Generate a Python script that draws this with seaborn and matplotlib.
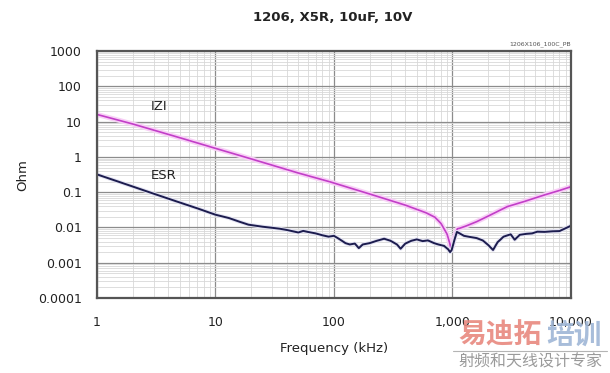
import numpy as np
import pandas as pd
import matplotlib
matplotlib.use("Agg")
import matplotlib.pyplot as plt
from matplotlib.ticker import LogLocator, FixedLocator, FixedFormatter, NullFormatter
import seaborn as sns

# |Z| curve (kHz, Ohm)
z_freq = [1, 2, 5, 10, 20, 50, 92, 200, 400, 600, 711, 800, 900, 950,
          975, 1000, 1050, 1100, 1150, 1300, 1600, 2000, 2900, 4000,
          6000, 8000, 10000]
z_ohm = [16, 8.6, 3.5, 1.75, 0.88, 0.35, 0.198, 0.089, 0.043, 0.026,
         0.0195, 0.013, 0.0065, 0.0035, 0.0024, 0.003, 0.0062, 0.0092,
         0.0095, 0.011, 0.0146, 0.021, 0.039, 0.054, 0.084, 0.112, 0.143]

# ESR curve (kHz, Ohm)
esr_freq = [1, 2, 3, 5, 7, 10, 13, 16, 19, 25, 30, 35, 40, 45, 50, 55, 60,
            70, 80, 90, 100, 112, 125, 136, 150, 162, 175, 200, 230, 265,
            300, 340, 365, 400, 450, 500, 560, 620, 700, 760, 850, 920,
            955, 985, 1040, 1090, 1150, 1250, 1400, 1600, 1800, 2000, 2200,
            2400, 2700, 3100, 3350, 3700, 4200, 4700, 5200, 6000, 7000,
            8000, 9000, 10000]
esr_ohm = [0.32, 0.145, 0.091, 0.051, 0.035, 0.023, 0.0185, 0.0145, 0.012,
           0.0105, 0.0098, 0.0092, 0.0085, 0.0078, 0.0072, 0.008, 0.0075,
           0.0068, 0.006, 0.0055, 0.0058, 0.0046, 0.0036, 0.0033, 0.0035,
           0.0026, 0.0033, 0.0036, 0.0042, 0.0048, 0.0042, 0.0033, 0.0025,
           0.0035, 0.0042, 0.0046, 0.0041, 0.0043, 0.0036, 0.0033, 0.003,
           0.0024, 0.002, 0.0023, 0.0045, 0.0075, 0.0068, 0.0058, 0.0054,
           0.005, 0.0043, 0.0032, 0.0023, 0.0038, 0.0055, 0.0064, 0.0045,
           0.0062, 0.0066, 0.0068, 0.0076, 0.0075, 0.0078, 0.0079, 0.0095,
           0.0112]

x_ticks = [1, 10, 100, 1000, 10000]
x_labels = ["1", "10", "100", "1,000", "10,000"]
y_ticks = [1e-4, 1e-3, 1e-2, 1e-1, 1, 10, 100, 1000]
y_labels = ["0.0001", "0.001", "0.01", "0.1", "1", "10", "100", "1000"]

z_df = pd.DataFrame({"freq": z_freq, "ohm": z_ohm})
esr_df = pd.DataFrame({"freq": esr_freq, "ohm": esr_ohm})

sns.set_theme(style="white")
plt.rcParams["font.family"] = ["DejaVu Sans"]

fig = plt.figure(figsize=(6.10, 3.73), dpi=100)
ax = fig.add_axes([0.159, 0.201, 0.777, 0.662])
ax.set_xscale("log")
ax.set_yscale("log")

# soft glow under the lines, then the lines
sns.lineplot(data=z_df, x="freq", y="ohm", ax=ax, color="#f8d0f6",
             linewidth=3.6, sort=False)
sns.lineplot(data=z_df, x="freq", y="ohm", ax=ax, color="#c23ec8",
             linewidth=1.2, sort=False)
sns.lineplot(data=esr_df, x="freq", y="ohm", ax=ax, color="#e2e2f2",
             linewidth=2.8, sort=False)
sns.lineplot(data=esr_df, x="freq", y="ohm", ax=ax, color="#1c1c4e",
             linewidth=1.4, sort=False)

ax.set_xlim(1, 10000)
ax.set_ylim(1e-4, 1000)

ax.xaxis.set_major_locator(FixedLocator(x_ticks))
ax.xaxis.set_major_formatter(FixedFormatter(x_labels))
ax.yaxis.set_major_locator(FixedLocator(y_ticks))
ax.yaxis.set_major_formatter(FixedFormatter(y_labels))
ax.xaxis.set_minor_locator(LogLocator(base=10, subs=np.arange(2, 10), numticks=50))
ax.yaxis.set_minor_locator(LogLocator(base=10, subs=np.arange(2, 10), numticks=50))
ax.xaxis.set_minor_formatter(NullFormatter())
ax.yaxis.set_minor_formatter(NullFormatter())

ax.grid(which="major", color="#8c8c8c", linewidth=0.9)
ax.grid(which="minor", color="#d8d8d8", linewidth=0.6)
ax.set_axisbelow(True)

ax.tick_params(axis="both", which="both", length=0, labelsize=9,
               labelcolor="#222222")
ax.tick_params(axis="x", pad=13)
ax.tick_params(axis="y", pad=11)

for s in ax.spines.values():
    s.set_color("#555555")
    s.set_linewidth(1.6)

ax.set_xlabel("Frequency (kHz)", fontsize=9.5, color="#222222", labelpad=9)
ax.set_ylabel("Ohm", fontsize=9.5, color="#222222", labelpad=6)

fig.text(0.546, 0.952, "1206, X5R, 10uF, 10V", ha="center", va="center",
         fontsize=9.5, fontweight="bold", color="#222222")
fig.text(0.936, 0.882, "1206X106_100C_PB", ha="right", va="center",
         fontsize=4.5, color="#555555")

ax.text(0.13, 0.775, "IZI", transform=ax.transAxes, fontsize=9.5,
        ha="center", va="center", color="#222222")
ax.text(0.14, 0.495, "ESR", transform=ax.transAxes, fontsize=9.5,
        ha="center", va="center", color="#222222")

# watermark
cjk = ["Noto Sans CJK SC", "DejaVu Sans"]
fig.text(0.751, 0.100, "易迪拓", family=cjk, fontsize=20, fontweight="bold",
         color="#e8887f", ha="left", va="center", alpha=0.9)
fig.text(0.895, 0.100, "培训", family=cjk, fontsize=20, fontweight="bold",
         color="#9fb6d6", ha="left", va="center", alpha=0.9)
fig.add_artist(plt.Line2D([0.742, 0.995], [0.059, 0.059], color="#b4b4b4",
                          linewidth=0.8, transform=fig.transFigure))
fig.text(0.751, 0.030, "射频和天线设计专家", family=cjk, fontsize=11.5,
         color="#9a9a9a", ha="left", va="center")

fig.savefig("out.png", dpi=100)
